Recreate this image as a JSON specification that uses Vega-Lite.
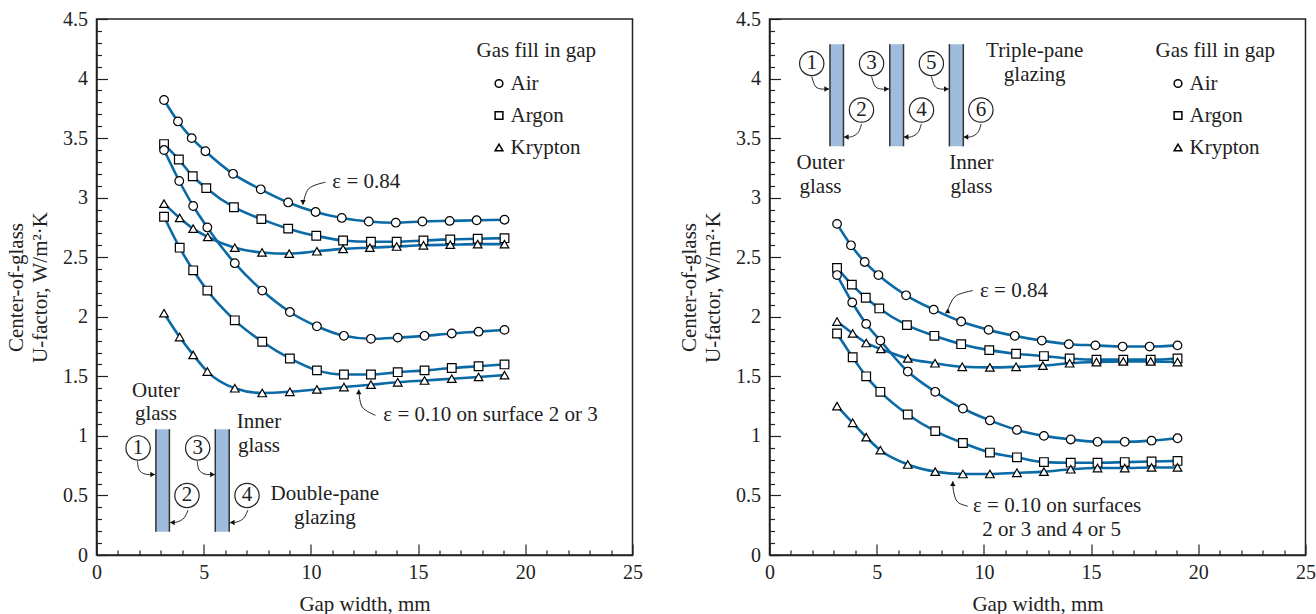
{"$schema":"https://vega.github.io/schema/vega-lite/v6.json","padding":{"left":4.5,"top":8,"right":0,"bottom":0},"spacing":34,"background":"white",
"config":{"view":{"stroke":"#222","strokeWidth":1.5},"font":"Liberation Serif","text":{"font":"Liberation Serif","fontSize":21,"color":"#222"},"axis":{"grid":false,"labelFont":"Liberation Serif","titleFont":"Liberation Serif","labelFontSize":20,"titleFontSize":21,"titleFontWeight":"normal","labelColor":"#222","titleColor":"#222","domainColor":"#222","tickColor":"#222","domainWidth":1.5,"tickWidth":1.2,"labelOverlap":false,"labelFlush":false},"legend":{"orient":"none","titleFont":"Liberation Serif","labelFont":"Liberation Serif","titleFontSize":21,"labelFontSize":21,"titleFontWeight":"normal","titleColor":"#222","labelColor":"#222","symbolSize":60,"rowPadding":10,"titlePadding":12,"symbolOffset":12,"labelOffset":1}},
"datasets":{
"curvesL":[
{"x":3.15,"y":3.82,"gas":"Air","e":"0.84"},{"x":3.8,"y":3.64,"gas":"Air","e":"0.84"},{"x":4.44,"y":3.5,"gas":"Air","e":"0.84"},{"x":5.08,"y":3.39,"gas":"Air","e":"0.84"},{"x":6.37,"y":3.2,"gas":"Air","e":"0.84"},{"x":7.66,"y":3.07,"gas":"Air","e":"0.84"},{"x":8.94,"y":2.96,"gas":"Air","e":"0.84"},{"x":10.22,"y":2.88,"gas":"Air","e":"0.84"},{"x":11.44,"y":2.83,"gas":"Air","e":"0.84"},{"x":12.7,"y":2.8,"gas":"Air","e":"0.84"},{"x":13.96,"y":2.79,"gas":"Air","e":"0.84"},{"x":15.2,"y":2.8,"gas":"Air","e":"0.84"},{"x":16.47,"y":2.805,"gas":"Air","e":"0.84"},{"x":17.73,"y":2.81,"gas":"Air","e":"0.84"},{"x":19.03,"y":2.815,"gas":"Air","e":"0.84"},
{"x":3.15,"y":3.45,"gas":"Argon","e":"0.84"},{"x":3.84,"y":3.32,"gas":"Argon","e":"0.84"},{"x":4.49,"y":3.18,"gas":"Argon","e":"0.84"},{"x":5.12,"y":3.08,"gas":"Argon","e":"0.84"},{"x":6.41,"y":2.92,"gas":"Argon","e":"0.84"},{"x":7.69,"y":2.82,"gas":"Argon","e":"0.84"},{"x":8.94,"y":2.74,"gas":"Argon","e":"0.84"},{"x":10.25,"y":2.68,"gas":"Argon","e":"0.84"},{"x":11.5,"y":2.64,"gas":"Argon","e":"0.84"},{"x":12.8,"y":2.63,"gas":"Argon","e":"0.84"},{"x":14.0,"y":2.63,"gas":"Argon","e":"0.84"},{"x":15.25,"y":2.64,"gas":"Argon","e":"0.84"},{"x":16.5,"y":2.65,"gas":"Argon","e":"0.84"},{"x":17.78,"y":2.655,"gas":"Argon","e":"0.84"},{"x":19.03,"y":2.66,"gas":"Argon","e":"0.84"},
{"x":3.15,"y":2.95,"gas":"Krypton","e":"0.84"},{"x":3.88,"y":2.83,"gas":"Krypton","e":"0.84"},{"x":4.51,"y":2.74,"gas":"Krypton","e":"0.84"},{"x":5.19,"y":2.67,"gas":"Krypton","e":"0.84"},{"x":6.45,"y":2.58,"gas":"Krypton","e":"0.84"},{"x":7.72,"y":2.54,"gas":"Krypton","e":"0.84"},{"x":8.99,"y":2.53,"gas":"Krypton","e":"0.84"},{"x":10.28,"y":2.55,"gas":"Krypton","e":"0.84"},{"x":11.5,"y":2.57,"gas":"Krypton","e":"0.84"},{"x":12.75,"y":2.58,"gas":"Krypton","e":"0.84"},{"x":14.0,"y":2.59,"gas":"Krypton","e":"0.84"},{"x":15.25,"y":2.6,"gas":"Krypton","e":"0.84"},{"x":16.5,"y":2.605,"gas":"Krypton","e":"0.84"},{"x":17.78,"y":2.61,"gas":"Krypton","e":"0.84"},{"x":19.03,"y":2.61,"gas":"Krypton","e":"0.84"},
{"x":3.15,"y":3.4,"gas":"Air","e":"0.10"},{"x":3.86,"y":3.14,"gas":"Air","e":"0.10"},{"x":4.51,"y":2.93,"gas":"Air","e":"0.10"},{"x":5.17,"y":2.75,"gas":"Air","e":"0.10"},{"x":6.45,"y":2.45,"gas":"Air","e":"0.10"},{"x":7.73,"y":2.22,"gas":"Air","e":"0.10"},{"x":9.02,"y":2.04,"gas":"Air","e":"0.10"},{"x":10.28,"y":1.92,"gas":"Air","e":"0.10"},{"x":11.54,"y":1.84,"gas":"Air","e":"0.10"},{"x":12.8,"y":1.815,"gas":"Air","e":"0.10"},{"x":14.05,"y":1.825,"gas":"Air","e":"0.10"},{"x":15.3,"y":1.84,"gas":"Air","e":"0.10"},{"x":16.57,"y":1.86,"gas":"Air","e":"0.10"},{"x":17.82,"y":1.875,"gas":"Air","e":"0.10"},{"x":19.03,"y":1.89,"gas":"Air","e":"0.10"},
{"x":3.15,"y":2.84,"gas":"Argon","e":"0.10"},{"x":3.88,"y":2.58,"gas":"Argon","e":"0.10"},{"x":4.51,"y":2.39,"gas":"Argon","e":"0.10"},{"x":5.17,"y":2.22,"gas":"Argon","e":"0.10"},{"x":6.45,"y":1.97,"gas":"Argon","e":"0.10"},{"x":7.73,"y":1.79,"gas":"Argon","e":"0.10"},{"x":9.02,"y":1.65,"gas":"Argon","e":"0.10"},{"x":10.28,"y":1.55,"gas":"Argon","e":"0.10"},{"x":11.54,"y":1.515,"gas":"Argon","e":"0.10"},{"x":12.8,"y":1.515,"gas":"Argon","e":"0.10"},{"x":14.05,"y":1.535,"gas":"Argon","e":"0.10"},{"x":15.3,"y":1.55,"gas":"Argon","e":"0.10"},{"x":16.57,"y":1.57,"gas":"Argon","e":"0.10"},{"x":17.82,"y":1.585,"gas":"Argon","e":"0.10"},{"x":19.03,"y":1.6,"gas":"Argon","e":"0.10"},
{"x":3.15,"y":2.03,"gas":"Krypton","e":"0.10"},{"x":3.88,"y":1.83,"gas":"Krypton","e":"0.10"},{"x":4.51,"y":1.68,"gas":"Krypton","e":"0.10"},{"x":5.17,"y":1.54,"gas":"Krypton","e":"0.10"},{"x":6.45,"y":1.4,"gas":"Krypton","e":"0.10"},{"x":7.73,"y":1.36,"gas":"Krypton","e":"0.10"},{"x":9.02,"y":1.37,"gas":"Krypton","e":"0.10"},{"x":10.28,"y":1.39,"gas":"Krypton","e":"0.10"},{"x":11.54,"y":1.41,"gas":"Krypton","e":"0.10"},{"x":12.8,"y":1.43,"gas":"Krypton","e":"0.10"},{"x":14.05,"y":1.45,"gas":"Krypton","e":"0.10"},{"x":15.3,"y":1.465,"gas":"Krypton","e":"0.10"},{"x":16.57,"y":1.48,"gas":"Krypton","e":"0.10"},{"x":17.82,"y":1.495,"gas":"Krypton","e":"0.10"},{"x":19.03,"y":1.51,"gas":"Krypton","e":"0.10"}],
"curvesR":[
{"x":3.15,"y":2.78,"gas":"Air","e":"0.84"},{"x":3.8,"y":2.6,"gas":"Air","e":"0.84"},{"x":4.44,"y":2.46,"gas":"Air","e":"0.84"},{"x":5.08,"y":2.35,"gas":"Air","e":"0.84"},{"x":6.37,"y":2.18,"gas":"Air","e":"0.84"},{"x":7.66,"y":2.06,"gas":"Air","e":"0.84"},{"x":8.94,"y":1.96,"gas":"Air","e":"0.84"},{"x":10.22,"y":1.89,"gas":"Air","e":"0.84"},{"x":11.44,"y":1.84,"gas":"Air","e":"0.84"},{"x":12.7,"y":1.8,"gas":"Air","e":"0.84"},{"x":13.96,"y":1.77,"gas":"Air","e":"0.84"},{"x":15.2,"y":1.76,"gas":"Air","e":"0.84"},{"x":16.47,"y":1.75,"gas":"Air","e":"0.84"},{"x":17.73,"y":1.75,"gas":"Air","e":"0.84"},{"x":19.03,"y":1.76,"gas":"Air","e":"0.84"},
{"x":3.15,"y":2.41,"gas":"Argon","e":"0.84"},{"x":3.84,"y":2.27,"gas":"Argon","e":"0.84"},{"x":4.49,"y":2.16,"gas":"Argon","e":"0.84"},{"x":5.12,"y":2.07,"gas":"Argon","e":"0.84"},{"x":6.41,"y":1.93,"gas":"Argon","e":"0.84"},{"x":7.69,"y":1.84,"gas":"Argon","e":"0.84"},{"x":8.94,"y":1.77,"gas":"Argon","e":"0.84"},{"x":10.25,"y":1.72,"gas":"Argon","e":"0.84"},{"x":11.5,"y":1.69,"gas":"Argon","e":"0.84"},{"x":12.8,"y":1.67,"gas":"Argon","e":"0.84"},{"x":14.0,"y":1.65,"gas":"Argon","e":"0.84"},{"x":15.25,"y":1.64,"gas":"Argon","e":"0.84"},{"x":16.5,"y":1.64,"gas":"Argon","e":"0.84"},{"x":17.78,"y":1.64,"gas":"Argon","e":"0.84"},{"x":19.03,"y":1.65,"gas":"Argon","e":"0.84"},
{"x":3.15,"y":1.96,"gas":"Krypton","e":"0.84"},{"x":3.88,"y":1.86,"gas":"Krypton","e":"0.84"},{"x":4.51,"y":1.78,"gas":"Krypton","e":"0.84"},{"x":5.19,"y":1.73,"gas":"Krypton","e":"0.84"},{"x":6.45,"y":1.65,"gas":"Krypton","e":"0.84"},{"x":7.72,"y":1.61,"gas":"Krypton","e":"0.84"},{"x":8.99,"y":1.58,"gas":"Krypton","e":"0.84"},{"x":10.28,"y":1.575,"gas":"Krypton","e":"0.84"},{"x":11.5,"y":1.58,"gas":"Krypton","e":"0.84"},{"x":12.75,"y":1.59,"gas":"Krypton","e":"0.84"},{"x":14.0,"y":1.61,"gas":"Krypton","e":"0.84"},{"x":15.25,"y":1.62,"gas":"Krypton","e":"0.84"},{"x":16.5,"y":1.625,"gas":"Krypton","e":"0.84"},{"x":17.78,"y":1.625,"gas":"Krypton","e":"0.84"},{"x":19.03,"y":1.62,"gas":"Krypton","e":"0.84"},
{"x":3.15,"y":2.35,"gas":"Air","e":"0.10"},{"x":3.86,"y":2.12,"gas":"Air","e":"0.10"},{"x":4.51,"y":1.94,"gas":"Air","e":"0.10"},{"x":5.17,"y":1.8,"gas":"Air","e":"0.10"},{"x":6.45,"y":1.54,"gas":"Air","e":"0.10"},{"x":7.73,"y":1.37,"gas":"Air","e":"0.10"},{"x":9.02,"y":1.23,"gas":"Air","e":"0.10"},{"x":10.28,"y":1.13,"gas":"Air","e":"0.10"},{"x":11.54,"y":1.05,"gas":"Air","e":"0.10"},{"x":12.8,"y":1.0,"gas":"Air","e":"0.10"},{"x":14.05,"y":0.97,"gas":"Air","e":"0.10"},{"x":15.3,"y":0.95,"gas":"Air","e":"0.10"},{"x":16.57,"y":0.95,"gas":"Air","e":"0.10"},{"x":17.82,"y":0.96,"gas":"Air","e":"0.10"},{"x":19.03,"y":0.98,"gas":"Air","e":"0.10"},
{"x":3.15,"y":1.86,"gas":"Argon","e":"0.10"},{"x":3.88,"y":1.66,"gas":"Argon","e":"0.10"},{"x":4.51,"y":1.5,"gas":"Argon","e":"0.10"},{"x":5.17,"y":1.37,"gas":"Argon","e":"0.10"},{"x":6.45,"y":1.18,"gas":"Argon","e":"0.10"},{"x":7.73,"y":1.04,"gas":"Argon","e":"0.10"},{"x":9.02,"y":0.94,"gas":"Argon","e":"0.10"},{"x":10.28,"y":0.86,"gas":"Argon","e":"0.10"},{"x":11.54,"y":0.82,"gas":"Argon","e":"0.10"},{"x":12.8,"y":0.78,"gas":"Argon","e":"0.10"},{"x":14.05,"y":0.775,"gas":"Argon","e":"0.10"},{"x":15.3,"y":0.775,"gas":"Argon","e":"0.10"},{"x":16.57,"y":0.78,"gas":"Argon","e":"0.10"},{"x":17.82,"y":0.785,"gas":"Argon","e":"0.10"},{"x":19.03,"y":0.79,"gas":"Argon","e":"0.10"},
{"x":3.15,"y":1.25,"gas":"Krypton","e":"0.10"},{"x":3.88,"y":1.11,"gas":"Krypton","e":"0.10"},{"x":4.51,"y":0.99,"gas":"Krypton","e":"0.10"},{"x":5.17,"y":0.88,"gas":"Krypton","e":"0.10"},{"x":6.45,"y":0.76,"gas":"Krypton","e":"0.10"},{"x":7.73,"y":0.7,"gas":"Krypton","e":"0.10"},{"x":9.02,"y":0.68,"gas":"Krypton","e":"0.10"},{"x":10.28,"y":0.68,"gas":"Krypton","e":"0.10"},{"x":11.54,"y":0.69,"gas":"Krypton","e":"0.10"},{"x":12.8,"y":0.7,"gas":"Krypton","e":"0.10"},{"x":14.05,"y":0.72,"gas":"Krypton","e":"0.10"},{"x":15.3,"y":0.73,"gas":"Krypton","e":"0.10"},{"x":16.57,"y":0.73,"gas":"Krypton","e":"0.10"},{"x":17.82,"y":0.735,"gas":"Krypton","e":"0.10"},{"x":19.03,"y":0.735,"gas":"Krypton","e":"0.10"}],
"panesL":[{"x":2.77,"x2":3.4,"y":0.195,"y2":1.056},{"x":5.54,"x2":6.19,"y":0.195,"y2":1.056}],
"panesR":[{"x":2.82,"x2":3.45,"y":3.431,"y2":4.289},{"x":5.61,"x2":6.25,"y":3.431,"y2":4.289},{"x":8.39,"x2":9.04,"y":3.431,"y2":4.289}],
"numsL":[{"x":1.94,"y":0.899,"label":"1"},{"x":4.22,"y":0.5,"label":"2"},{"x":4.72,"y":0.899,"label":"3"},{"x":7.02,"y":0.5,"label":"4"}],
"numsR":[{"x":1.97,"y":4.127,"label":"1"},{"x":4.29,"y":3.736,"label":"2"},{"x":4.76,"y":4.127,"label":"3"},{"x":7.09,"y":3.736,"label":"4"},{"x":7.55,"y":4.127,"label":"5"},{"x":9.86,"y":3.736,"label":"6"}],
"arrowsL":[
{"a":"1","o":1,"x":1.91,"y":0.788},{"a":"1","o":2,"x":1.99,"y":0.715},{"a":"1","o":3,"x":2.27,"y":0.679},{"a":"1","o":4,"x":2.73,"y":0.676},
{"a":"3","o":1,"x":4.7,"y":0.788},{"a":"3","o":2,"x":4.78,"y":0.715},{"a":"3","o":3,"x":5.06,"y":0.679},{"a":"3","o":4,"x":5.52,"y":0.676},
{"a":"2","o":1,"x":4.27,"y":0.377},{"a":"2","o":2,"x":4.08,"y":0.31},{"a":"2","o":3,"x":3.76,"y":0.277},{"a":"2","o":4,"x":3.43,"y":0.272},
{"a":"4","o":1,"x":7.06,"y":0.377},{"a":"4","o":2,"x":6.87,"y":0.31},{"a":"4","o":3,"x":6.55,"y":0.277},{"a":"4","o":4,"x":6.22,"y":0.272},
{"a":"e84","o":1,"x":10.68,"y":3.13},{"a":"e84","o":2,"x":9.9,"y":3.076},{"a":"e84","o":3,"x":9.63,"y":2.94},
{"a":"e10","o":1,"x":13.01,"y":1.173},{"a":"e10","o":2,"x":12.39,"y":1.243},{"a":"e10","o":3,"x":12.23,"y":1.389}],
"arrowsR":[
{"a":"1","o":1,"x":1.97,"y":4.018},{"a":"1","o":2,"x":2.12,"y":3.94},{"a":"1","o":3,"x":2.35,"y":3.914},{"a":"1","o":4,"x":2.78,"y":3.912},
{"a":"3","o":1,"x":4.76,"y":4.018},{"a":"3","o":2,"x":4.91,"y":3.94},{"a":"3","o":3,"x":5.14,"y":3.914},{"a":"3","o":4,"x":5.57,"y":3.912},
{"a":"5","o":1,"x":7.55,"y":4.018},{"a":"5","o":2,"x":7.7,"y":3.94},{"a":"5","o":3,"x":7.93,"y":3.914},{"a":"5","o":4,"x":8.36,"y":3.912},
{"a":"2","o":1,"x":4.29,"y":3.618},{"a":"2","o":2,"x":4.14,"y":3.548},{"a":"2","o":3,"x":3.83,"y":3.512},{"a":"2","o":4,"x":3.47,"y":3.51},
{"a":"4","o":1,"x":7.08,"y":3.618},{"a":"4","o":2,"x":6.93,"y":3.548},{"a":"4","o":3,"x":6.62,"y":3.512},{"a":"4","o":4,"x":6.26,"y":3.51},
{"a":"6","o":1,"x":9.87,"y":3.618},{"a":"6","o":2,"x":9.72,"y":3.548},{"a":"6","o":3,"x":9.41,"y":3.512},{"a":"6","o":4,"x":9.05,"y":3.51},
{"a":"e84","o":1,"x":9.48,"y":2.22},{"a":"e84","o":2,"x":8.73,"y":2.18},{"a":"e84","o":3,"x":8.41,"y":2.1},{"a":"e84","o":4,"x":8.31,"y":2.037},
{"a":"e10","o":1,"x":9.25,"y":0.41},{"a":"e10","o":2,"x":8.78,"y":0.444},{"a":"e10","o":3,"x":8.59,"y":0.528},{"a":"e10","o":4,"x":8.55,"y":0.62}],
"headsL":[{"x":2.62,"y":0.676,"dir":"right"},{"x":5.41,"y":0.676,"dir":"right"},{"x":3.54,"y":0.272,"dir":"left"},{"x":6.33,"y":0.272,"dir":"left"},{"x":9.63,"y":2.96,"dir":"down"},{"x":12.23,"y":1.37,"dir":"up"}],
"headsR":[{"x":2.67,"y":3.912,"dir":"right"},{"x":5.46,"y":3.912,"dir":"right"},{"x":8.25,"y":3.912,"dir":"right"},{"x":3.58,"y":3.51,"dir":"left"},{"x":6.37,"y":3.51,"dir":"left"},{"x":9.16,"y":3.51,"dir":"left"},{"x":8.31,"y":2.05,"dir":"up"},{"x":8.55,"y":0.6,"dir":"up"}],
"textL":[{"x":2.77,"y":1.375,"label":"Outer"},{"x":2.77,"y":1.18,"label":"glass"},{"x":7.58,"y":1.117,"label":"Inner"},{"x":7.58,"y":0.916,"label":"glass"},{"x":10.65,"y":0.511,"label":"Double-pane"},{"x":10.65,"y":0.308,"label":"glazing"}],
"noteL":[{"x":11.0,"y":3.13,"label":"ε = 0.84"},{"x":13.38,"y":1.173,"label":"ε = 0.10 on surface 2 or 3"}],
"textR":[{"x":12.37,"y":4.233,"label":"Triple-pane"},{"x":12.37,"y":4.03,"label":"glazing"},{"x":2.38,"y":3.288,"label":"Outer"},{"x":2.38,"y":3.087,"label":"glass"},{"x":9.42,"y":3.288,"label":"Inner"},{"x":9.42,"y":3.087,"label":"glass"},{"x":13.16,"y":0.21,"label":"2 or 3 and 4 or 5"}],
"noteR":[{"x":9.82,"y":2.22,"label":"ε = 0.84"},{"x":9.49,"y":0.41,"label":"ε = 0.10 on surfaces"}]
},
"hconcat":[
{"width":536,"height":536,"resolve":{"axis":{"x":"independent","y":"independent"},"scale":{"shape":"independent"}},
"encoding":{"x":{"field":"x","type":"quantitative","scale":{"domain":[0,25]},"axis":null},"y":{"field":"y","type":"quantitative","scale":{"domain":[0,4.5]},"axis":null}},
"layer":[
{"data":{"name":"curvesL"},"mark":{"type":"line","interpolate":"monotone","color":"#0b6aa6","strokeWidth":2.6},"encoding":{"detail":[{"field":"gas"},{"field":"e"}],
 "x":{"field":"x","type":"quantitative","scale":{"domain":[0,25]},"axis":{"orient":"bottom","values":[0,5,10,15,20,25],"tickSize":-11,"labelPadding":18,"title":"Gap width, mm","titlePadding":11}},
 "y":{"field":"y","type":"quantitative","scale":{"domain":[0,4.5]},"axis":{"orient":"left","values":[0,0.5,1,1.5,2,2.5,3,3.5,4,4.5],"format":".1~f","tickSize":-11,"labelPadding":20,"title":["Center-of-glass","U-factor, W/m²·K"],"titlePadding":12,"titleLineHeight":24}}}},
{"data":{"name":"curvesL"},"mark":{"type":"point","filled":true,"fill":"white","stroke":"black","strokeWidth":1.2,"size":75,"opacity":1},"encoding":{
 "shape":{"field":"gas","type":"nominal","scale":{"domain":["Air","Argon","Krypton"],"range":["circle","square","triangle-up"]},"legend":{"title":"Gas fill in gap","legendX":380,"legendY":21,"encode":{"symbols":{"update":{"stroke":{"value":"black"},"fill":{"value":"white"},"strokeWidth":{"value":1.3},"opacity":{"value":1}}}}}},
 "x":{"field":"x","type":"quantitative","scale":{"domain":[0,25]},"axis":{"orient":"bottom","values":[1,2,3,4,6,7,8,9,11,12,13,14,16,17,18,19,21,22,23,24],"tickSize":-5,"labels":false,"domain":false,"title":null}},
 "y":{"field":"y","type":"quantitative","scale":{"domain":[0,4.5]},"axis":{"orient":"left","values":[0.1,0.2,0.3,0.4,0.6,0.7,0.8,0.9,1.1,1.2,1.3,1.4,1.6,1.7,1.8,1.9,2.1,2.2,2.3,2.4,2.6,2.7,2.8,2.9,3.1,3.2,3.3,3.4,3.6,3.7,3.8,3.9,4.1,4.2,4.3,4.4],"tickSize":-5,"labels":false,"domain":false,"title":null}}}},
{"data":{"name":"panesL"},"mark":{"type":"rect","color":"#9fbcdc"},"encoding":{"x2":{"field":"x2"},"y2":{"field":"y2"}}},
{"data":{"name":"panesL"},"mark":{"type":"rule","color":"#333","strokeWidth":1.5},"encoding":{"y2":{"field":"y2"}}},
{"data":{"name":"panesL"},"mark":{"type":"rule","color":"#333","strokeWidth":1.5},"encoding":{"x":{"field":"x2","type":"quantitative","scale":{"domain":[0,25]},"axis":null},"y2":{"field":"y2"}}},
{"data":{"name":"arrowsL"},"mark":{"type":"line","interpolate":"cardinal","color":"#222","strokeWidth":1},"encoding":{"detail":{"field":"a"},"order":{"field":"o"}}},
{"data":{"name":"headsL"},"mark":{"type":"point","filled":true,"color":"#111","size":30,"opacity":1},"encoding":{"shape":{"field":"dir","type":"nominal","scale":{"domain":["right","left","up","down"],"range":["triangle-right","triangle-left","triangle-up","triangle-down"]},"legend":null}}},
{"data":{"name":"numsL"},"mark":{"type":"point","filled":true,"fill":"white","stroke":"#222","strokeWidth":1.2,"size":590,"shape":"circle","opacity":1}},
{"data":{"name":"numsL"},"mark":{"type":"text","align":"center","baseline":"middle"},"encoding":{"text":{"field":"label"}}},
{"data":{"name":"textL"},"mark":{"type":"text","align":"center","baseline":"middle"},"encoding":{"text":{"field":"label"}}},
{"data":{"name":"noteL"},"mark":{"type":"text","align":"left","baseline":"middle"},"encoding":{"text":{"field":"label"}}}
]},
{"width":536,"height":536,"resolve":{"axis":{"x":"independent","y":"independent"},"scale":{"shape":"independent"}},
"encoding":{"x":{"field":"x","type":"quantitative","scale":{"domain":[0,25]},"axis":null},"y":{"field":"y","type":"quantitative","scale":{"domain":[0,4.5]},"axis":null}},
"layer":[
{"data":{"name":"curvesR"},"mark":{"type":"line","interpolate":"monotone","color":"#0b6aa6","strokeWidth":2.6},"encoding":{"detail":[{"field":"gas"},{"field":"e"}],
 "x":{"field":"x","type":"quantitative","scale":{"domain":[0,25]},"axis":{"orient":"bottom","values":[0,5,10,15,20,25],"tickSize":-11,"labelPadding":18,"title":"Gap width, mm","titlePadding":11}},
 "y":{"field":"y","type":"quantitative","scale":{"domain":[0,4.5]},"axis":{"orient":"left","values":[0,0.5,1,1.5,2,2.5,3,3.5,4,4.5],"format":".1~f","tickSize":-11,"labelPadding":20,"title":["Center-of-glass","U-factor, W/m²·K"],"titlePadding":12,"titleLineHeight":24}}}},
{"data":{"name":"curvesR"},"mark":{"type":"point","filled":true,"fill":"white","stroke":"black","strokeWidth":1.2,"size":75,"opacity":1},"encoding":{
 "shape":{"field":"gas","type":"nominal","scale":{"domain":["Air","Argon","Krypton"],"range":["circle","square","triangle-up"]},"legend":{"title":"Gas fill in gap","legendX":386,"legendY":21,"encode":{"symbols":{"update":{"stroke":{"value":"black"},"fill":{"value":"white"},"strokeWidth":{"value":1.3},"opacity":{"value":1}}}}}},
 "x":{"field":"x","type":"quantitative","scale":{"domain":[0,25]},"axis":{"orient":"bottom","values":[1,2,3,4,6,7,8,9,11,12,13,14,16,17,18,19,21,22,23,24],"tickSize":-5,"labels":false,"domain":false,"title":null}},
 "y":{"field":"y","type":"quantitative","scale":{"domain":[0,4.5]},"axis":{"orient":"left","values":[0.1,0.2,0.3,0.4,0.6,0.7,0.8,0.9,1.1,1.2,1.3,1.4,1.6,1.7,1.8,1.9,2.1,2.2,2.3,2.4,2.6,2.7,2.8,2.9,3.1,3.2,3.3,3.4,3.6,3.7,3.8,3.9,4.1,4.2,4.3,4.4],"tickSize":-5,"labels":false,"domain":false,"title":null}}}},
{"data":{"name":"panesR"},"mark":{"type":"rect","color":"#9fbcdc"},"encoding":{"x2":{"field":"x2"},"y2":{"field":"y2"}}},
{"data":{"name":"panesR"},"mark":{"type":"rule","color":"#333","strokeWidth":1.5},"encoding":{"y2":{"field":"y2"}}},
{"data":{"name":"panesR"},"mark":{"type":"rule","color":"#333","strokeWidth":1.5},"encoding":{"x":{"field":"x2","type":"quantitative","scale":{"domain":[0,25]},"axis":null},"y2":{"field":"y2"}}},
{"data":{"name":"arrowsR"},"mark":{"type":"line","interpolate":"cardinal","color":"#222","strokeWidth":1},"encoding":{"detail":{"field":"a"},"order":{"field":"o"}}},
{"data":{"name":"headsR"},"mark":{"type":"point","filled":true,"color":"#111","size":30,"opacity":1},"encoding":{"shape":{"field":"dir","type":"nominal","scale":{"domain":["right","left","up","down"],"range":["triangle-right","triangle-left","triangle-up","triangle-down"]},"legend":null}}},
{"data":{"name":"numsR"},"mark":{"type":"point","filled":true,"fill":"white","stroke":"#222","strokeWidth":1.2,"size":590,"shape":"circle","opacity":1}},
{"data":{"name":"numsR"},"mark":{"type":"text","align":"center","baseline":"middle"},"encoding":{"text":{"field":"label"}}},
{"data":{"name":"textR"},"mark":{"type":"text","align":"center","baseline":"middle"},"encoding":{"text":{"field":"label"}}},
{"data":{"name":"noteR"},"mark":{"type":"text","align":"left","baseline":"middle"},"encoding":{"text":{"field":"label"}}}
]}
]}
